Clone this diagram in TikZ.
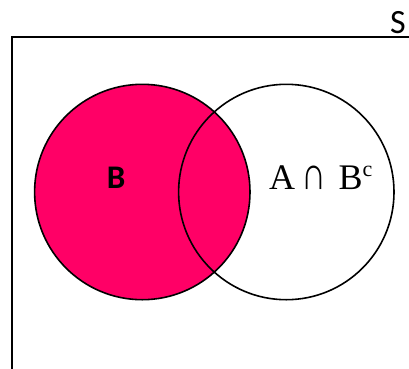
\documentclass[tikz,border=0pt]{standalone}
\usepackage{fontspec}
\usepackage{graphicx}
\setmainfont{Carlito}
\newfontfamily\timesf{Liberation Serif}
\definecolor{vpink}{HTML}{FF0066}
\begin{document}
\begin{tikzpicture}[x=1pt,y=-1pt,
  setline/.style={line width=2pt,black},
  circ/.style={line width=1.6pt,black}]
\useasboundingbox (0,0) rectangle (409,368);
\draw[setline] (12,372) coordinate (bl) |- (412,37) coordinate (tr);
\fill[vpink] (142.3,192) circle (107.7);
\draw[circ] (142.3,192) circle (107.7);
\draw[circ] (286.3,192) circle (107.7);
\node[font=\bfseries\fontsize{33}{36}\selectfont,inner sep=0] (blab) at (116,178) {B};
\node[font=\timesf\fontsize{36}{40}\selectfont,inner sep=0,anchor=base west] (alab) at (269,189) {A\hspace{6.5pt}\resizebox{25pt}{23.5pt}{∩}\hspace{12pt}B\raisebox{13pt}{\fontsize{22}{24}\selectfont c}};
\node[font=\fontsize{34}{36}\selectfont,inner sep=0,anchor=base] (slab) at (398,33) {S};
\end{tikzpicture}
\end{document}
